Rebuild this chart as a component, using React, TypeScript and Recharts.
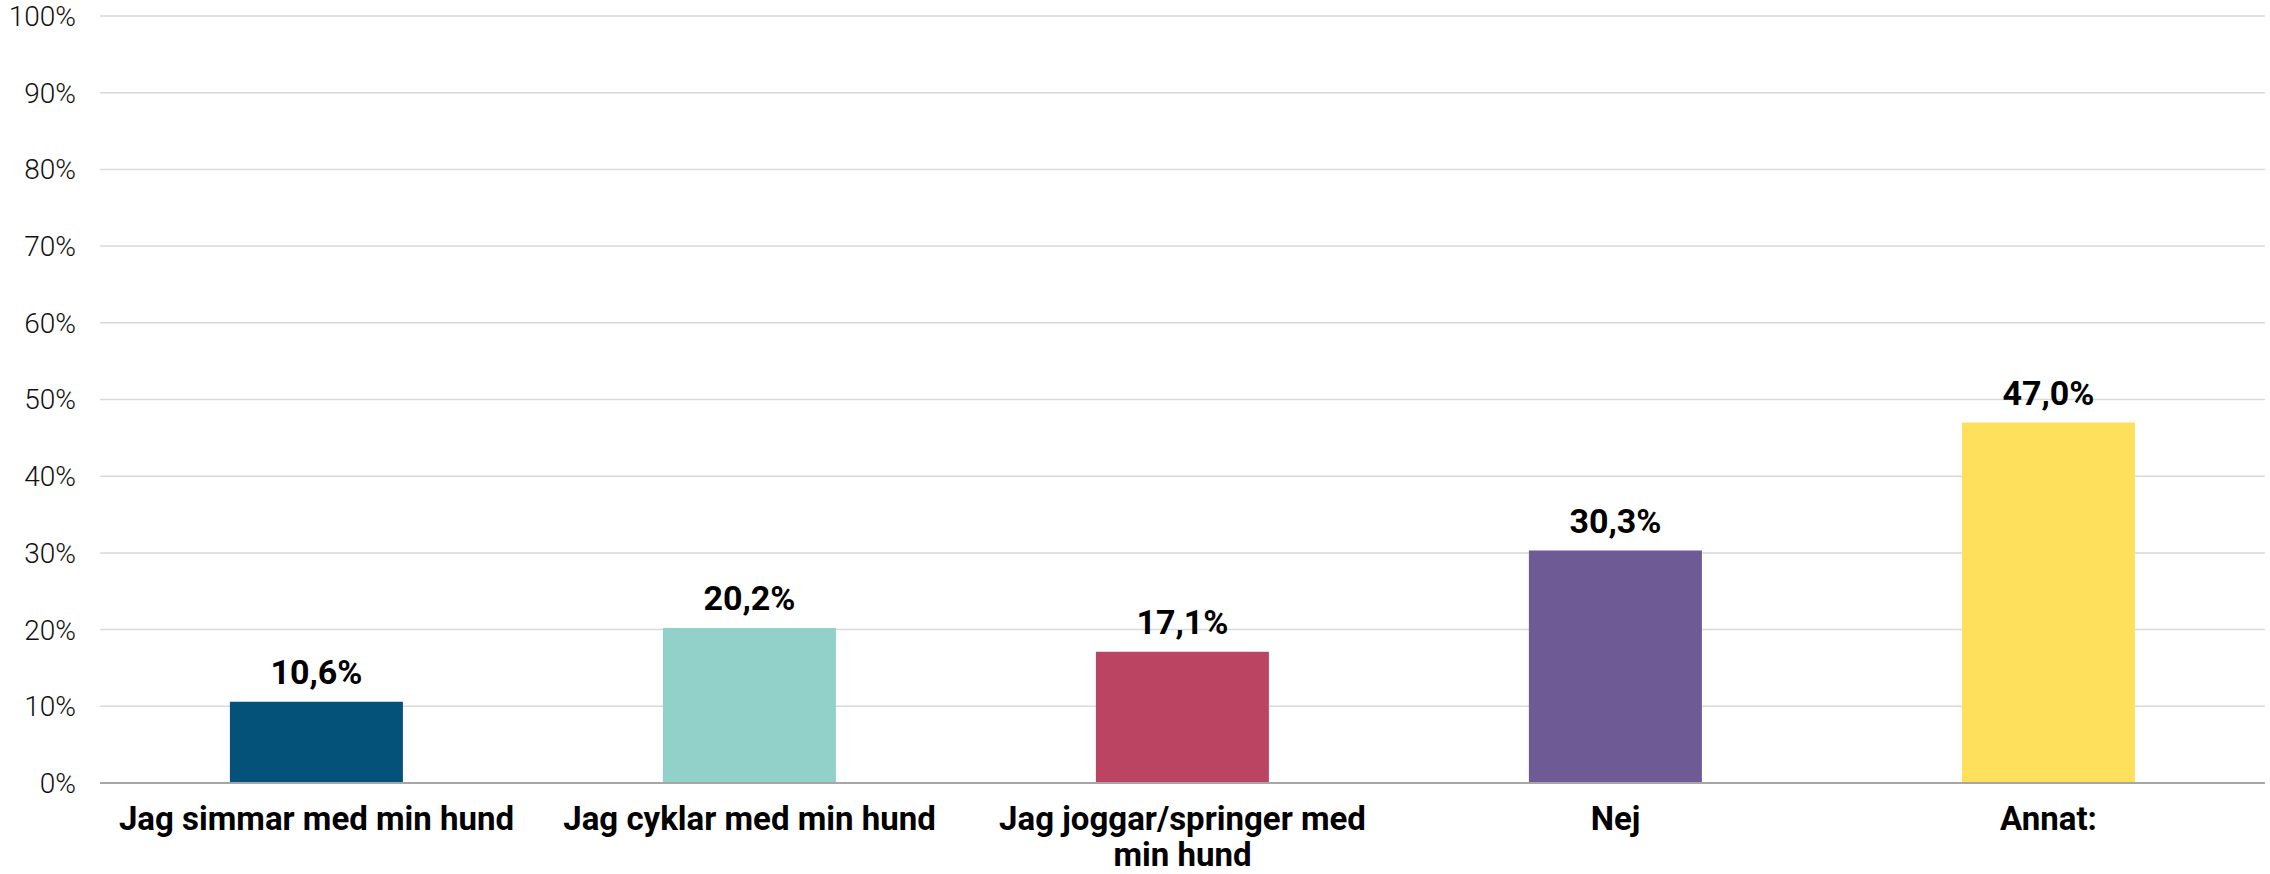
import { BarChart, Bar, XAxis, YAxis, CartesianGrid, Cell, LabelList } from 'recharts';

const categories = [
  'Jag simmar med min hund',
  'Jag cyklar med min hund',
  'Jag joggar/springer med min hund',
  'Nej',
  'Annat:',
];
const values = [10.6, 20.2, 17.1, 30.3, 47.0];
const barColors = ['#04527A', '#92D1C9', '#BB4462', '#6E5B95', '#FFE05C'];
const yTicks = [0, 10, 20, 30, 40, 50, 60, 70, 80, 90, 100];

const data = categories.map((name, i) => ({ name, value: values[i] }));

const fmtPct = (v: number) => v.toFixed(1).replace('.', ',') + '%';

const labelFont = "Roboto, 'Liberation Sans', sans-serif";
const tickFontSize = 33;
const wrapWidth = 420;

let measureCtx: CanvasRenderingContext2D | null = null;
function measure(s: string) {
  if (!measureCtx) measureCtx = document.createElement('canvas').getContext('2d');
  if (!measureCtx) return s.length * tickFontSize * 0.55;
  measureCtx.font = `700 ${tickFontSize}px ${labelFont}`;
  return measureCtx.measureText(s).width;
}

// simple word wrap for the category labels
function wrapLabel(label: string) {
  const words = label.split(' ');
  const lines: string[] = [];
  let cur = '';
  for (const w of words) {
    const next = cur ? cur + ' ' + w : w;
    if (cur && measure(next) > wrapWidth) {
      lines.push(cur);
      cur = w;
    } else {
      cur = next;
    }
  }
  if (cur) lines.push(cur);
  return lines;
}

function CategoryTick(props: any) {
  const { x, y, payload } = props;
  const lines = wrapLabel(String(payload.value));
  return (
    <text
      x={x}
      y={y}
      textAnchor="middle"
      fill="#000"
      style={{ fontSize: tickFontSize, fontWeight: 700, fontFamily: labelFont }}
    >
      {lines.map((line, i) => (
        <tspan key={i} x={x} dy={i === 0 ? '0.71em' : 36}>
          {line}
        </tspan>
      ))}
    </text>
  );
}

export default function App() {
  return (
    <div style={{ position: 'absolute', left: 0, top: 0, background: '#fff' }}>
      <BarChart
        width={2270}
        height={874}
        data={data}
        margin={{ top: 16, right: 5, left: 0, bottom: 0 }}
        barCategoryGap="30%"
      >
        <CartesianGrid vertical={false} stroke="#d9d9d9" strokeWidth={1.5} />
        <XAxis
          dataKey="name"
          height={91}
          tickLine={false}
          tickSize={0}
          tickMargin={24}
          axisLine={{ stroke: '#a6a6a6', strokeWidth: 2 }}
          tick={<CategoryTick />}
          interval={0}
        />
        <YAxis
          domain={[0, 100]}
          ticks={yTicks}
          width={100}
          axisLine={false}
          tickLine={false}
          tickSize={0}
          tickMargin={24}
          tickFormatter={(v: number) => `${v}%`}
          tick={{ fontSize: 28, fill: '#111', fontFamily: 'Roboto, sans-serif', fontWeight: 300 }}
        />
        <Bar dataKey="value" isAnimationActive={false}>
          {data.map((d, i) => (
            <Cell key={d.name} fill={barColors[i]} />
          ))}
          <LabelList
            dataKey="value"
            position="top"
            offset={18}
            formatter={(v: any) => fmtPct(Number(v))}
            style={{ fontSize: 34, fontWeight: 700, fill: '#000', fontFamily: labelFont }}
          />
        </Bar>
      </BarChart>
    </div>
  );
}
